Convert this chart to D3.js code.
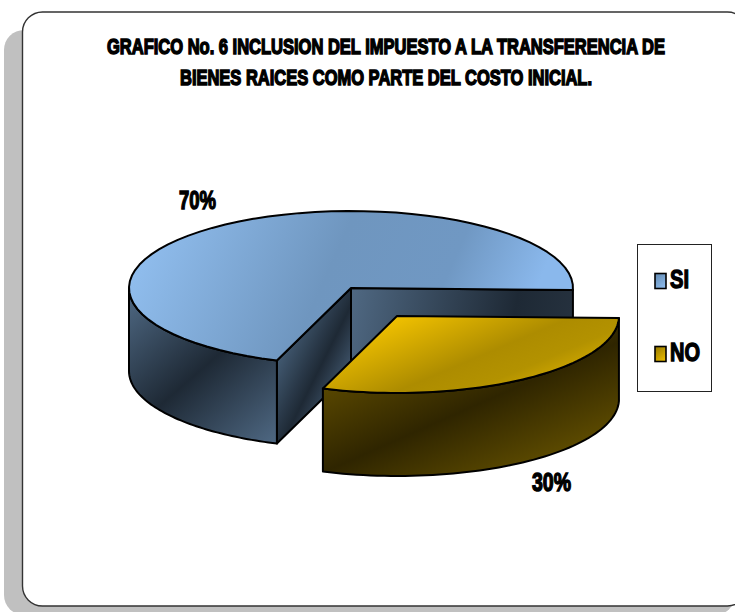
<!DOCTYPE html>
<html>
<head>
<meta charset="utf-8">
<script src="https://cdn.jsdelivr.net/npm/d3@7/dist/d3.min.js"></script>
<style>
html,body{margin:0;padding:0;background:#fff;overflow:hidden;}
svg{display:block;}
text{font-family:"Liberation Sans Narrow","Liberation Sans",Arial,sans-serif;font-weight:bold;fill:#000;stroke:#000;stroke-width:1px;}
</style>
</head>
<body>
<svg id="chart" width="735" height="612"></svg>
<script>
// Chart content
const categories = ["SI", "NO"];
const shares = [70, 30];
const valueLabels = ["70%", "30%"];
const titleLines = [
  "GRAFICO No. 6 INCLUSION DEL IMPUESTO A LA TRANSFERENCIA DE",
  "BIENES RAICES COMO PARTE DEL COSTO INICIAL."
];

const svg = d3.select("#chart");
const defs = svg.append("defs");

// Diagonal shaded fills for tops and walls
function shade(id, stops, x1, y1, x2, y2) {
  const g = defs.append("linearGradient").attr("id", id)
    .attr("gradientUnits", "userSpaceOnUse")
    .attr("x1", x1).attr("y1", y1).attr("x2", x2).attr("y2", y2);
  stops.forEach(([o, c]) => g.append("stop").attr("offset", o).attr("stop-color", c));
}
shade("siTop", [[0, "#93c1f2"], [.5, "#6f96bf"], [.78, "#7098c3"], [1, "#8ab8ec"]], 140, 210, 500, 370);
shade("siSide", [[0, "#4c657f"], [.5, "#1e2935"], [1, "#4c657f"]], 130, 300, 260, 450);
shade("siCut", [[0, "#40576e"], [.5, "#1e2935"], [1, "#4c657f"]], 280, 360, 350, 395);
shade("siBack", [[0, "#4f6882"], [.72, "#1e2935"], [1, "#26323f"]], 350, 300, 575, 340);
shade("noTop", [[0, "#f2c200"], [.5, "#ad8c00"], [.7, "#b39200"], [1, "#e6b800"]], 455, 290, 510, 420);
shade("noSide", [[0, "#6b5600"], [.5, "#2f2500"], [1, "#6f5a00"]], 370, 330, 460, 534);
shade("swSi", [[0, "#5f86ad"], [1, "#93c1f2"]], 654, 273, 666, 289);
shade("swNo", [[0, "#8f7400"], [1, "#f2c200"]], 654, 346, 666, 362);

// Page frame with drop shadow; both run past the right edge of the page
svg.append("rect").attr("x", 4).attr("y", 30).attr("width", 731).attr("height", 585)
  .attr("rx", 20).attr("fill", "#c0c0c0");
svg.append("rect").attr("x", 22.5).attr("y", 12).attr("width", 725).attr("height", 594)
  .attr("rx", 20).attr("fill", "#fff").attr("stroke", "#333").attr("stroke-width", 1.4);

// Title: narrow setting, stretched upright
svg.selectAll("text.title").data(titleLines).join("text").attr("class", "title")
  .attr("transform", (d, i) => `translate(386,${i === 0 ? 53.5 : 85}) scale(1,1.5)`)
  .attr("text-anchor", "middle").attr("font-size", 14.5)
  .attr("textLength", (d, i) => i === 0 ? 558 : 412)
  .attr("lengthAdjust", "spacingAndGlyphs")
  .text(d => d);

// Pie geometry: the disc is a circle flattened by tilt, and slices get extruded by depth
const rx = 222, ry = 77, depth = 83;
const centers = {SI: [351, 288], NO: [397, 316]};
const pie = d3.pie().sort(null)
  .startAngle(199.5 * Math.PI / 180)
  .endAngle((199.5 + 360) * Math.PI / 180);
const slices = pie(shares).map((d, i) => ({...d, name: categories[i]}));

const rim = (c, a, dy = 0) => [c[0] + rx * Math.sin(a), c[1] - ry * Math.cos(a) + dy];
const angles = (a0, a1) => d3.range(0, 61).map(k => a0 + (a1 - a0) * k / 60);

function topPath(s) {
  const c = centers[s.name];
  return d3.line()([c, ...angles(s.startAngle, s.endAngle).map(a => rim(c, a))]) + "Z";
}
function outerWall(c, a0, a1) {
  const up = angles(a0, a1).map(a => rim(c, a));
  const down = angles(a1, a0).map(a => rim(c, a, depth));
  return d3.line()([...up, ...down]) + "Z";
}
function cutWall(c, a) {
  const p = rim(c, a);
  return d3.line()([c, p, [p[0], p[1] + depth], [c[0], c[1] + depth]]) + "Z";
}

const outline = sel => sel.attr("stroke", "#000").attr("stroke-width", 2).attr("stroke-linejoin", "round");
const [si, no] = slices;

// Slice SI: inner faces, outer wall, then the top
const g = svg.append("g");
outline(g.append("path").attr("d", cutWall(centers.SI, si.endAngle)).attr("fill", "url(#siBack)"));
outline(g.append("path").attr("d", cutWall(centers.SI, si.startAngle)).attr("fill", "url(#siCut)"));
outline(g.append("path").attr("d", outerWall(centers.SI, si.startAngle, 270 * Math.PI / 180)).attr("fill", "url(#siSide)"));
outline(g.append("path").attr("d", topPath(si)).attr("fill", "url(#siTop)"));

// Slice NO pulled out of the disc
outline(g.append("path").attr("d", outerWall(centers.NO, no.startAngle, no.endAngle)).attr("fill", "url(#noSide)"));
outline(g.append("path").attr("d", topPath(no)).attr("fill", "url(#noTop)"));

// Value labels
svg.selectAll("text.val").data(valueLabels).join("text").attr("class", "val")
  .attr("transform", (d, i) => `translate(${i === 0 ? 179 : 532},${i === 0 ? 209 : 491}) scale(1,1.42)`)
  .attr("font-size", 18).attr("textLength", (d, i) => i === 0 ? 37 : 39)
  .attr("lengthAdjust", "spacingAndGlyphs").text(d => d);

// Legend
svg.append("rect").attr("x", 637.5).attr("y", 244.5).attr("width", 74).attr("height", 147)
  .attr("fill", "#fff").attr("stroke", "#222").attr("stroke-width", 1);
const legendY = d3.scalePoint().domain(categories).range([273, 346]);
const items = svg.selectAll("g.item").data(categories).join("g").attr("class", "item");
items.append("rect").attr("x", 655).attr("y", d => legendY(d) + .5).attr("width", 11).attr("height", 15)
  .attr("fill", d => d === "SI" ? "url(#swSi)" : "url(#swNo)").attr("stroke", "#000").attr("stroke-width", 1.6);
items.append("text").attr("transform", d => `translate(670,${legendY(d) + 15}) scale(1,1.4)`).attr("font-size", 19)
  .attr("textLength", d => d === "SI" ? 19 : 30).attr("lengthAdjust", "spacingAndGlyphs").text(d => d);
</script>
</body>
</html>
